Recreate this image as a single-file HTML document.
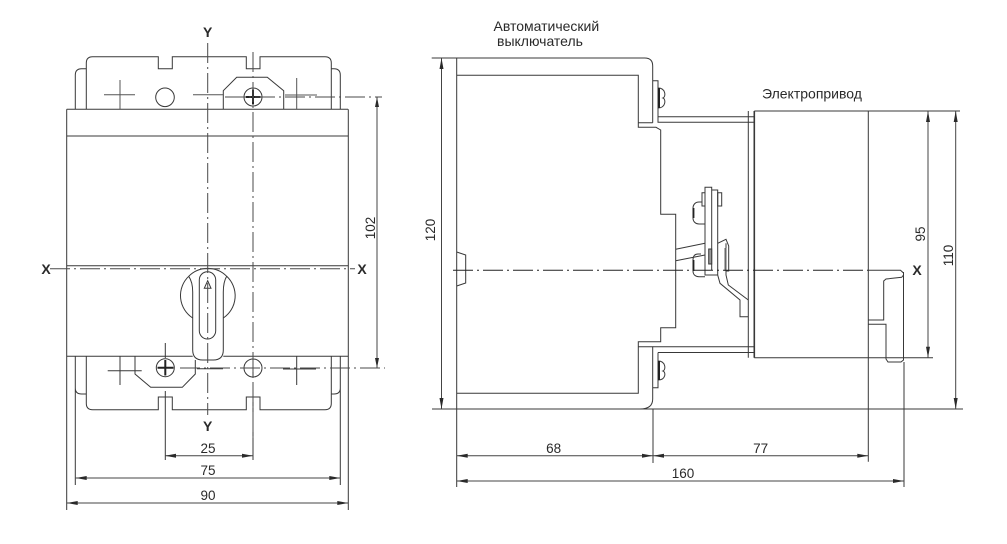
<!DOCTYPE html>
<html><head><meta charset="utf-8"><style>
html,body{margin:0;padding:0;background:#fff;width:1007px;height:544px;overflow:hidden}
svg{display:block}
text{font-family:"Liberation Sans",sans-serif;fill:#2a2a2a;font-size:13.5px}
.t{font-size:14px}
.b{font-weight:bold;font-size:14px}
</style></head><body>
<svg width="1007" height="544" viewBox="0 0 1007 544" xmlns="http://www.w3.org/2000/svg">
<g fill="none" stroke="#383838" stroke-width="1">
<!-- LEFT VIEW -->
<path d="M66.7 109.3H348M66.7 136H348M66.7 109.3V510M348.3 109.3V510M66.7 356.3H192.7M223.3 356.3H348M66.7 265.7H348"/>
<path d="M86.3 109.3V63Q86.3 56.7 92.6 56.7H158.3V68.7H172.3V56.7H246.3V68.7H260V56.7H325Q331.3 56.7 331.3 63V109.3"/>
<path d="M75.3 109.3V75Q75.3 68.7 81.6 68.7H86.3M331.3 68.7H334Q340.3 68.7 340.3 75V109.3"/>
<circle cx="165" cy="97.3" r="9.3"/>
<path d="M223.3 109.3V90.7L236.7 77.3H267.3L283.7 90.7V109.3"/>
<circle cx="253" cy="97" r="9"/>
<path d="M120 80V109M104 94.7H135M296.7 78V109M285 95H317M193 94.7H223" stroke="#555"/>
<path d="M245.5 97H260.5M253 89.5V104.5" stroke="#222" stroke-width="2"/>
<!-- lower block -->
<path d="M86.3 356.3V403.4Q86.3 409.7 92.6 409.7H158.3V397H172.3V409.7H246.3V397H260V409.7H325Q331.3 409.7 331.3 403.4V356.3"/>
<path d="M75.3 356.3V388Q75.3 394 81.6 394H86.3M331.3 394H334Q340.3 394 340.3 388V356.3M75.3 388V485M340.3 388V485"/>
<path d="M135 356.3V374L150.7 387.3H182.3L195.3 374V360"/>
<circle cx="165.3" cy="367.7" r="9"/>
<circle cx="253" cy="368" r="9"/>
<path d="M157.5 367.7H173.5M165.3 360V375.5" stroke="#222" stroke-width="2"/>
<path d="M120 356.3V385M107.7 370.7H141.7M296.7 356.3V385M283 369H316M197 368.7H223M253 359V377M165.3 343V358M165.3 391V460M253 397V460"/>
<!-- handle -->
<path d="M188.7 276.3A26.7 26.7 0 0 0 192.7 318M226.7 276.3A26.7 26.7 0 0 1 223.3 318M188.7 276.3A26.7 26.7 0 0 1 226.7 276.3"/>
<path d="M188.7 276.3Q192.7 282 192.7 292V350Q192.7 360 202.7 360H213.3Q223.3 360 223.3 350V292Q223.3 282 226.7 276.3"/>
<rect x="199.3" y="271.7" width="16.4" height="67.3" rx="8.2"/>
<path d="M207.7 280.7L204.3 288.3H211Z"/>
<!-- center lines -->
<path d="M207.7 43V415M253 52V440" stroke="#4a4a4a" stroke-dasharray="20 4 2 4"/>
<path d="M225 97H382" stroke="#4a4a4a" stroke-dasharray="20 4 2 4"/>
<path d="M180 368H385" stroke="#4a4a4a" stroke-dasharray="20 4 2 4"/>
<path d="M50 268.7H355" stroke="#4a4a4a" stroke-dasharray="20 4 2 4"/>
<!-- left dims -->
<path d="M377 97V368M165 455.7H253M75.7 478H340.3M66.7 503H348.3" stroke="#444"/>
<!-- RIGHT VIEW -->
<path d="M431.7 58H644.7Q652.7 58 652.7 66V122.7M456.7 58V487"/>
<path d="M456.7 75.3H638.3V127.3H656L660.7 130V214.3H675.7V327.7H660.7V341.7H638.3V393.3H456.7"/>
<path d="M638.3 122.7H652.7M638.3 346.7H652.7V399Q652.7 409 640 409"/>
<path d="M652.7 80.7H658V116.7H748.3M658 116.7V122.3H748.3M652.7 346.7H748.3M658 352.5V387.7H652.7M658 352.5H748.3"/>
<path d="M658 88C666 88 666 97 663 98C666 99 666 108 658 108M658 361C666 361 666 370 663 371C666 372 666 380 658 380"/>
<path d="M659 88V108M659 361V380" stroke="#222" stroke-width="2"/>
<path d="M456.7 252L465.7 255V283L456.7 286"/>
<path d="M748.3 111V357.7"/>
<path d="M754.3 111V357.7" stroke-width="1.6"/>
<path d="M754.3 111H960M754.3 357.7H933M868.3 111V461.7M432 409H963M653 409V463"/>
<path d="M748.3 122.3H754.3M748.3 116.7H754.3M748.3 346.7H754.3M748.3 352.5H754.3"/>
<!-- right end -->
<path d="M868.3 270.3H900.5L903.5 273V275L901.7 277.3L886 279L883.7 281V320H868.3M868.3 324.3H886V359L888 362H901L903.5 360V272M904 362V487"/>
<!-- mechanism -->
<path d="M705 270V187.3H711.7V270M711.7 190H717.7V266M705 270V275H717.7M717.7 266V275L720 283.3L740 300V316.7H748.3M726 243.3V275L728.3 285L748.3 300"/>
<path d="M717.7 243.3L726 239.3L728.7 246V271H726M702 192.7H705V206H702ZM717.7 192.7H721.7V206H717.7Z"/>
<path d="M702 202H699C695 202 693 205 693 208V218C693 222 696 224 699 224H705M701 254H698C694 254 693 257 693 260V271C693 275 696 276.7 699 276.7H705"/>
<path d="M693.5 208V218M693.5 260V271" stroke="#222" stroke-width="1.8"/>
<path d="M675.7 249.3L705 243.3M675.7 260.7L705 255"/>
<rect x="708.7" y="249" width="3" height="15" fill="#999"/>
<path d="M725.5 248V271" stroke="#666" stroke-width="2"/>
<path d="M453 270.3H868" stroke="#222" stroke-dasharray="20 4 2 4"/>
<!-- right dims -->
<path d="M441.5 58V409M928 111V357.7M955.7 111V409M456.7 455.7H653M653 455.7H868.3M456.7 481H904" stroke="#444"/>
</g>
<!-- arrowheads -->
<g fill="#2a2a2a">
<path d="M377 97l-2 10h4zM377 368l-2-10h4z"/>
<path d="M165 455.7l11-2v4zM253 455.7l-11-2v4zM75.7 478l11-2v4zM340.3 478l-11-2v4zM66.7 503l11-2v4zM348.3 503l-11-2v4z"/>
<path d="M441.5 58l-2 11h4zM441.5 409l-2-11h4zM928 111l-2 11h4zM928 357.7l-2-11h4zM955.7 111l-2 11h4zM955.7 409l-2-11h4z"/>
<path d="M456.7 455.7l11-2v4zM653 455.7l-11-2v4zM653 455.7l11-2v4zM868.3 455.7l-11-2v4zM456.7 481l11-2v4zM904 481l-11-2v4z"/>
</g>
<!-- labels -->
<text class="b" x="207.7" y="37" text-anchor="middle">Y</text>
<text class="b" x="207.7" y="431" text-anchor="middle">Y</text>
<text class="b" x="46" y="274" text-anchor="middle">X</text>
<text class="b" x="362" y="274" text-anchor="middle">X</text>
<text class="b" x="917" y="275" text-anchor="middle">X</text>
<text x="208" y="453" text-anchor="middle">25</text>
<text x="208" y="475" text-anchor="middle">75</text>
<text x="208" y="500" text-anchor="middle">90</text>
<text x="553.7" y="453" text-anchor="middle">68</text>
<text x="760.7" y="453" text-anchor="middle">77</text>
<text x="683" y="478" text-anchor="middle">160</text>
<text x="0" y="0" text-anchor="middle" transform="translate(375 228) rotate(-90)">102</text>
<text x="0" y="0" text-anchor="middle" transform="translate(435 230) rotate(-90)">120</text>
<text x="0" y="0" text-anchor="middle" transform="translate(925 234) rotate(-90)">95</text>
<text x="0" y="0" text-anchor="middle" transform="translate(953 255.5) rotate(-90)">110</text>
<text class="t" x="493.5" y="31">Автоматический</text>
<text class="t" x="497" y="46">выключатель</text>
<text class="t" x="762" y="98.5">Электропривод</text>
</svg>
</body></html>
